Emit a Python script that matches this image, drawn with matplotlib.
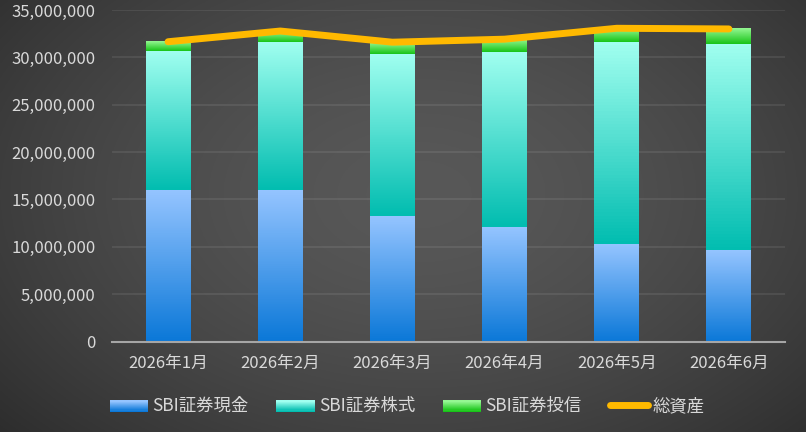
import numpy as np
import matplotlib
matplotlib.use("Agg")
import matplotlib.pyplot as plt
from matplotlib.colors import LinearSegmentedColormap
from matplotlib.legend_handler import HandlerBase
from matplotlib.patches import Rectangle
from matplotlib.lines import Line2D
from matplotlib.ticker import FuncFormatter

plt.rcParams['font.family'] = ['Noto Sans CJK JP', 'DejaVu Sans']

months = ["2026年1月", "2026年2月", "2026年3月", "2026年4月", "2026年5月", "2026年6月"]
cash = [15970000, 15970000, 13250000, 12090000, 10330000, 9660000]
stock = [14700000, 15650000, 17110000, 18480000, 21290000, 21750000]
fund = [980000, 1160000, 1240000, 1350000, 1450000, 1590000]
total = [c + s + f for c, s, f in zip(cash, stock, fund)]

names = ["SBI証券現金", "SBI証券株式", "SBI証券投信", "総資産"]
grads = [("#94c4ff", "#0b78d8"), ("#a0fff0", "#02bdb0"), ("#94f792", "#18c418")]
line_col = "#ffb900"
txt_col = "#d9d9d9"

fig = plt.figure(figsize=(8.06, 4.32), dpi=100)

# background
bg = fig.add_axes([0, 0, 1, 1], zorder=-10)
yy, xx = np.mgrid[0:1:300j, 0:1:500j]
r = np.sqrt(((xx - 0.52) / 0.75) ** 2 + ((yy - 0.45) / 0.9) ** 2)
shade = 0.345 - 0.19 * np.clip(r, 0, 1) ** 1.6
bg.imshow(np.dstack([shade] * 3), extent=(0, 1, 0, 1), aspect='auto')
bg.axis('off')

ax = fig.add_axes([112 / 806, 1 - 341.5 / 432, 673 / 806, 331.5 / 432])
ax.set_facecolor('none')

x = np.arange(len(months))
bottom = np.zeros(len(months))
for vals, (c_top, c_bot) in zip([cash, stock, fund], grads):
    bars = ax.bar(x, vals, 0.4, bottom=bottom, color='none', zorder=2)
    cmap = LinearSegmentedColormap.from_list("g", [c_bot, c_top])
    grad = np.linspace(0, 1, 64).reshape(-1, 1)
    for b in bars:
        x0, y0 = b.get_x(), b.get_y()
        ax.imshow(grad, cmap=cmap, origin='lower', aspect='auto', zorder=2,
                  extent=(x0, x0 + b.get_width(), y0, y0 + b.get_height()))
    bottom += np.array(vals)

ax.plot(x, total, color=line_col, lw=5, solid_capstyle='round', zorder=3)

ax.set_xlim(-0.5, len(months) - 0.5)
ax.set_ylim(0, 35000000)
ax.set_yticks(np.arange(0, 35000001, 5000000))
ax.yaxis.set_major_formatter(FuncFormatter(lambda v, p: f"{int(v):,}"))
ax.set_xticks(x)
ax.set_xticklabels(months)
ax.grid(axis='y', color='#ffffff', alpha=0.1, lw=1.1, zorder=0)
ax.set_axisbelow(True)
for s in ['top', 'right', 'left']:
    ax.spines[s].set_visible(False)
ax.spines['bottom'].set_color('#a6a6a6')
ax.spines['bottom'].set_linewidth(1.5)
ax.spines['bottom'].set_zorder(4)
ax.tick_params(axis='both', length=0, colors=txt_col, labelsize=12)
ax.tick_params(axis='y', pad=12)
ax.tick_params(axis='x', pad=10)


class GradHandler(HandlerBase):
    def __init__(self, c_top, c_bot):
        super().__init__()
        self.cmap = LinearSegmentedColormap.from_list("h", [c_bot, c_top])

    def create_artists(self, legend, orig, xd, yd, w, h, fs, trans):
        arts = []
        n = 10
        for i in range(n):
            rr = Rectangle((xd, yd + h * i / n), w, h / n + 0.3,
                           facecolor=self.cmap(i / (n - 1)), edgecolor='none',
                           transform=trans)
            arts.append(rr)
        return arts


handles = [Rectangle((0, 0), 1, 1) for _ in range(3)]
handles.append(Line2D([0], [0], color=line_col, lw=5, solid_capstyle='round'))
hmap = {handles[i]: GradHandler(*grads[i]) for i in range(3)}
leg = fig.legend(handles, names, handler_map=hmap, loc='center',
                 bbox_to_anchor=(0.505, 1 - 406 / 432), ncol=4, frameon=False,
                 fontsize=12.5, handlelength=2.2, handleheight=0.6,
                 handletextpad=0.25, columnspacing=1.6)
for t in leg.get_texts():
    t.set_color(txt_col)

fig.savefig("out.png", dpi=100)
